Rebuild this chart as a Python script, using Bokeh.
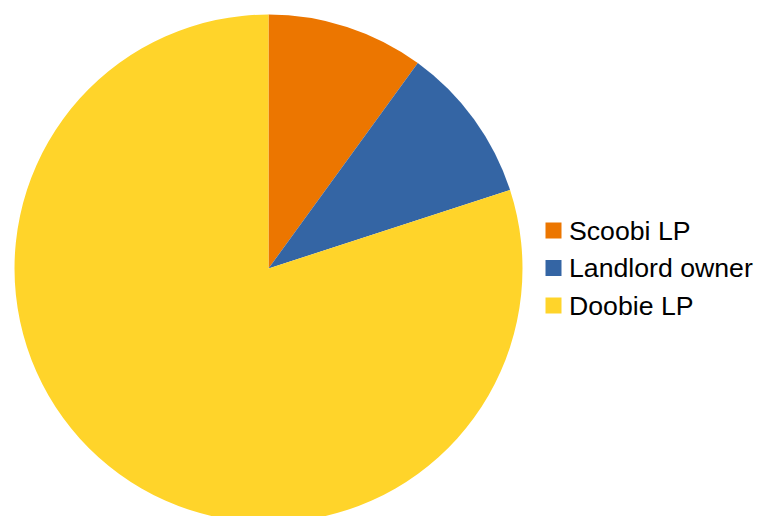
import numpy as np
from bokeh.plotting import figure
from bokeh.models import Range1d, ColumnDataSource
from bokeh.core.properties import value
from bokeh.embed import file_html
from bokeh.resources import INLINE

categories = ["Scoobi LP", "Landlord owner", "Doobie LP"]
values = [10, 10, 80]
colors = ["#EC7600", "#3465A4", "#FFD42A"]

W, H = 762, 516
cx, cy, r = 268, H - 268, 254

vals = np.array(values, dtype=float)
frac = vals / vals.sum()
cum = np.concatenate([[0], np.cumsum(frac)])
start = np.pi / 2 - cum[:-1] * 2 * np.pi
end = np.pi / 2 - cum[1:] * 2 * np.pi

src = ColumnDataSource(dict(cat=categories, start=start, end=end, color=colors,
                            x=[cx] * len(values), y=[cy] * len(values)))

p = figure(width=W, height=H, x_range=Range1d(0, W), y_range=Range1d(0, H),
           output_backend="svg", toolbar_location=None, min_border=0)
p.axis.visible = False
p.grid.visible = False
p.outline_line_color = None
p.background_fill_color = "white"
p.border_fill_color = "white"

p.wedge(x="x", y="y", radius=r, start_angle="start", end_angle="end",
        direction="clock", fill_color="color", line_color=None, source=src)

# legend
n = len(categories)
ly0 = H - 230
step = 37.5
leg = ColumnDataSource(dict(
    sx=[553] * n,
    tx=[568.5] * n,
    y=[ly0 - i * step for i in range(n)],
    label=categories,
    color=colors,
))
p.rect(x="sx", y="y", width=16, height=16, width_units="screen", height_units="screen",
       fill_color="color", line_color=None, source=leg)
p.text(x="tx", y="y", text="label", text_font=value("Liberation Sans"),
       text_font_size="26.67px", text_baseline="middle", text_align="left",
       text_color="black", source=leg)

open("out.html", "w").write(file_html(p, INLINE))
